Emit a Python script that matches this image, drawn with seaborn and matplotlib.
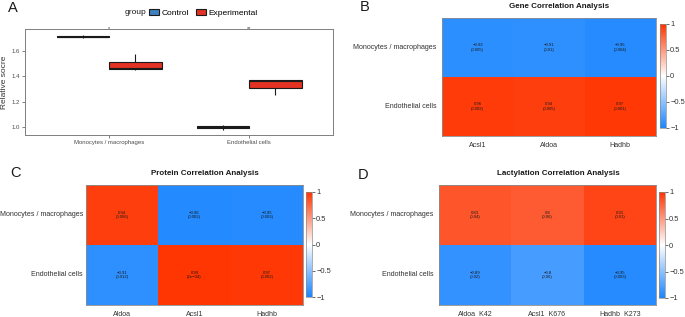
import numpy as np
import pandas as pd
import matplotlib
matplotlib.use("Agg")
import matplotlib.pyplot as plt
import seaborn as sns
from matplotlib.colors import LinearSegmentedColormap

# ---- data ----
cell_types = ["Monocytes / macrophages", "Endothelial cells"]

# panel A: relative score per replicate
mono_control = [1.700, 1.705, 1.710, 1.712, 1.720]
mono_experimental = [1.450, 1.455, 1.460, 1.510, 1.570]
endo_control = [0.980, 0.990, 1.000, 1.005, 1.020]
endo_experimental = [1.250, 1.310, 1.360, 1.370, 1.370]

# panel B: gene correlation
gene_cols = ["Acsl1", "Aldoa", "Hadhb"]
gene_r = [[-0.92, -0.91, -0.95], [0.96, 0.94, 0.97]]
gene_p = [["0.005", "0.01", "0.004"], ["0.002", "0.005", "0.001"]]

# panel C: protein correlation
protein_cols = ["Aldoa", "Acsl1", "Hadhb"]
protein_r = [[0.94, -0.96, -0.95], [-0.91, 0.99, 0.97]]
protein_p = [["0.006", "0.002", "0.003"], ["0.012", "2e\u221204", "0.002"]]

# panel D: lactylation correlation
lact_cols = ["Aldoa_K42", "Acsl1_K676", "Hadhb_K273"]
lact_r = [[0.83, 0.8, 0.91], [-0.89, -0.8, -0.95]]
lact_p = [["0.04", "0.06", "0.01"], ["0.02", "0.06", "0.003"]]

plt.rcParams["font.family"] = ["Liberation Sans", "DejaVu Sans"]
plt.rcParams["axes.unicode_minus"] = True

W, H = 685, 317
fig = plt.figure(figsize=(W / 100, H / 100), dpi=100)


def box(x0, y0, x1, y1):
    # pixel box (top-left origin) -> figure fraction rect
    return [x0 / W, 1 - y1 / H, (x1 - x0) / W, (y1 - y0) / H]


# ---- panel A ----
rows = []
for cell, grp, vals in [(cell_types[0], "Control", mono_control),
                        (cell_types[0], "Experimental", mono_experimental),
                        (cell_types[1], "Control", endo_control),
                        (cell_types[1], "Experimental", endo_experimental)]:
    for v in vals:
        rows.append({"cell": cell, "group": grp, "score": v})
df = pd.DataFrame(rows)

ax_a = fig.add_axes(box(25, 29, 333, 135))
sns.boxplot(data=df, x="cell", y="score", hue="group",
            palette={"Control": "#3F7FBF", "Experimental": "#E13223"},
            saturation=1, width=0.75, gap=0, linewidth=0.8, linecolor="#1a1a1a",
            fliersize=0, showcaps=False, ax=ax_a)
ax_a.set_xlim(-0.6, 1.6)
ax_a.set_ylim(0.938, 1.769)
ax_a.set_yticks([1.0, 1.2, 1.4, 1.6])
ax_a.set_yticklabels(["1.0", "1.2", "1.4", "1.6"])
ax_a.set_xlabel("")
ax_a.set_ylabel("Relative socre", fontsize=6, color="#333333", labelpad=3)
ax_a.tick_params(axis="both", labelsize=4.3, colors="#4d4d4d", length=2, width=0.5, pad=1.5)
for s in ax_a.spines.values():
    s.set_color("#7f7f7f")
    s.set_linewidth(0.7)
ax_a.text(0, 1.772, "*", ha="center", va="center", fontsize=4, color="#333333")
ax_a.text(1, 1.772, "**", ha="center", va="center", fontsize=4, color="#333333")
sns.move_legend(ax_a, "center left", bbox_to_anchor=(145 / W, 1 - 13 / H),
                bbox_transform=fig.transFigure, ncol=2, title=None, frameon=False,
                fontsize=6, handlelength=1.2, handleheight=0.8,
                handletextpad=0.3, columnspacing=0.8, borderpad=0)
fig.text(125 / W, 1 - 13 / H, "group", ha="left", va="center", fontsize=6, color="#1a1a1a")

# ---- heatmaps ----
cmap = LinearSegmentedColormap.from_list("corr", ["#1A85FF", "#FFFFFF", "#FF3300"])


def corr_panel(rect, cbar_rect, r, p, cols, title, title_xy, ypad=4):
    ax = fig.add_axes(box(*rect))
    cax = fig.add_axes(box(*cbar_rect))
    data = pd.DataFrame(r, index=cell_types, columns=cols)
    labels = np.array([[f"{v:g}".replace("-", "\u2212") + f"\n({pv})"
                        for v, pv in zip(rr, pp)] for rr, pp in zip(r, p)])
    sns.heatmap(data, ax=ax, cbar_ax=cax, cmap=cmap, vmin=-1, vmax=1,
                annot=labels, fmt="", annot_kws={"fontsize": 3.1, "color": "#1a1a1a",
                                                  "linespacing": 1.1})
    ax.tick_params(axis="both", length=0, labelsize=5.1, colors="#333333", pad=4)
    ax.tick_params(axis="y", pad=ypad)
    ax.set_yticklabels(ax.get_yticklabels(), rotation=0)
    ax.set_xticklabels(ax.get_xticklabels(), rotation=0)
    ax.set_xlabel("")
    ax.set_ylabel("")
    for s in ax.spines.values():
        s.set_visible(True)
        s.set_color("#8c8c8c")
        s.set_linewidth(0.6)
    cbar = ax.collections[0].colorbar
    cbar.set_ticks([-1, -0.5, 0, 0.5, 1])
    cbar.set_ticklabels(["\u22121", "\u22120.5", "0", "0.5", "1"])
    cax.tick_params(labelsize=5.4, colors="#333333", length=2, width=0.5, pad=1)
    cbar.outline.set_edgecolor("#8c8c8c")
    cbar.outline.set_linewidth(0.5)
    fig.text(title_xy[0] / W, 1 - title_xy[1] / H, title, ha="center", va="center",
             fontsize=5.8, fontweight="bold", color="#1a1a1a")


corr_panel((442, 18, 656, 136), (660, 24, 666, 128), gene_r, gene_p, gene_cols,
           "Gene Correlation Analysis", (559, 6))
corr_panel((86, 185, 303, 305), (306, 192, 312, 297), protein_r, protein_p, protein_cols,
           "Protein Correlation Analysis", (205, 173), ypad=2.2)
corr_panel((439, 185, 656, 305), (659, 192, 665, 298), lact_r, lact_p, lact_cols,
           "Lactylation Correlation Analysis", (558, 173))

# panel letters
for letter, x, y in [("A", 8, 8), ("B", 360, 7), ("C", 10, 173), ("D", 358, 175)]:
    fig.text(x / W, 1 - y / H, letter, ha="left", va="center", fontsize=10.5, color="#1a1a1a")

fig.savefig("out.png", dpi=100)
